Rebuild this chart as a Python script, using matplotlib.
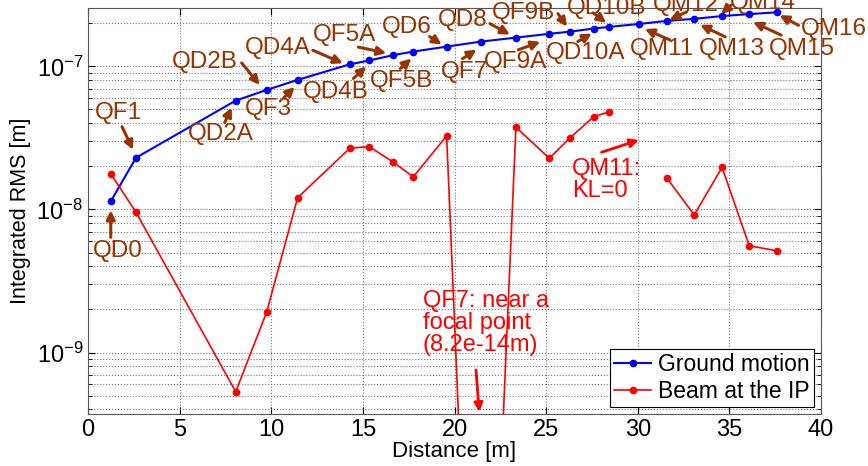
import numpy as np
import matplotlib
matplotlib.use("Agg")
import matplotlib.pyplot as plt
from matplotlib.ticker import LogLocator, NullFormatter
from matplotlib.transforms import offset_copy

plt.rcParams['font.family'] = ['Liberation Sans', 'DejaVu Sans']
plt.rcParams['mathtext.default'] = 'regular'

# Element names along the beamline
names = ["QD0", "QF1", "QD2A", "QD2B", "QF3", "QD4A", "QD4B", "QF5A", "QF5B", "QD6",
         "QF7", "QD8", "QF9A", "QF9B", "QD10A", "QD10B", "QM11", "QM12", "QM13",
         "QM14", "QM15", "QM16"]

# Distance from IP [m]
distance = [1.24, 2.62, 8.06, 9.75, 11.44, 14.29, 15.35, 16.66, 17.75, 19.57,
            21.42, 23.35, 25.17, 26.3, 27.6, 28.44, 30.06, 31.57, 33.08,
            34.6, 36.08, 37.57]

# Integrated RMS, ground motion [m]
ground = [1.14e-8, 2.30e-8, 5.77e-8, 6.85e-8, 8.05e-8, 1.035e-7, 1.10e-7, 1.20e-7,
          1.27e-7, 1.375e-7, 1.49e-7, 1.59e-7, 1.69e-7, 1.75e-7, 1.84e-7, 1.89e-7,
          1.98e-7, 2.08e-7, 2.15e-7, 2.25e-7, 2.32e-7, 2.39e-7]

# Integrated RMS, beam at the IP [m]  (QM11 has KL=0 -> no value)
beam = [1.78e-8, 9.55e-9, 5.32e-10, 1.92e-9, 1.21e-8, 2.68e-8, 2.75e-8, 2.14e-8,
        1.69e-8, 3.27e-8, 8.2e-14, 3.76e-8, 2.28e-8, 3.16e-8, 4.46e-8, 4.81e-8,
        np.nan, 1.67e-8, 9.16e-9, 1.97e-8, 5.58e-9, 5.15e-9]

# label placement, pixel offsets from each blue point: text, arrow tail, arrow tip
label_pos = {
    "QD0":   ((7, -50), (0, -36), (0, -9)),
    "QF1":   ((-18, 45), (-14, 31), (-3, 8)),
    "QD2A":  ((-15, -33), (-11, -22), (-4, -7)),
    "QD2B":  ((-62, 28), (-25, 27), (-7, 5)),
    "QF3":   ((-29, -29), (-14, -18), (-3, -7)),
    "QD4A":  ((-72, 16), (-37, 14), (-7, 1)),
    "QD4B":  ((-34, -32), (-16, -18), (-3, -6)),
    "QF5A":  ((-49, 20), (-35, 8), (-7, 2)),
    "QF5B":  ((-12, -29), (-13, -17), (-2, -7)),
    "QD6":   ((-40, 20), (-17, 10), (-5, 2)),
    "QF7":   ((-16, -30), (-18, -17), (-4, -8)),
    "QD8":   ((-53, 18), (-26, 14), (-6, 3)),
    "QF9A":  ((-34, -28), (-31, -16), (-9, -8)),
    "QF9B":  ((-46, 19), (-12, 18), (-3, 5)),
    "QD10A": ((-8, -24), (-16, -13), (-2, -5)),
    "QD10B": ((-3, 19), (-16, 14), (-3, 4)),
    "QM11":  ((23, -25), (31, -16), (6, -5)),
    "QM12":  ((19, 16), (20, 9), (3, 1)),
    "QM13":  ((38, -30), (31, -18), (6, -6)),
    "QM14":  ((41, 13), (9, 11), (-1, 2)),
    "QM15":  ((53, -35), (32, -21), (4, -8)),
    "QM16":  ((57, -17), (22, -13), (3, -3)),
}

brown = (0.6, 0.2, 0.0)

fig = plt.figure(figsize=(8.68, 4.66), dpi=100)
ax = fig.add_axes([0.1014, 0.1116, 0.8445, 0.8712])

ax.plot(distance, ground, '-o', color='blue', lw=1.5, ms=4.5, label='Ground motion')
ax.plot(distance, beam, '-o', color='red', lw=1.2, ms=4.5, label='Beam at the IP')

ax.set_yscale('log')
ax.set_xlim(0, 40)
ax.set_ylim(3.72e-10, 2.56e-7)
ax.set_xticks(range(0, 41, 5))
ax.yaxis.set_major_locator(LogLocator(base=10, numticks=10))
ax.yaxis.set_minor_locator(LogLocator(base=10, subs=np.arange(2, 10), numticks=20))
ax.yaxis.set_minor_formatter(NullFormatter())
ax.tick_params(which='both', direction='in', top=True, right=True, labelsize=17)
ax.tick_params(which='major', length=5)
ax.tick_params(which='minor', length=3)
ax.grid(True, which='major', ls=':', color='0.45', lw=0.8)
ax.grid(True, which='minor', axis='y', ls=':', color='0.45', lw=0.8)
for s in ax.spines.values():
    s.set_color('0.35')

ax.set_xlabel('Distance [m]', fontsize=16, labelpad=0)
ax.set_ylabel('Integrated RMS [m]', fontsize=15.5, labelpad=4)

# element labels on the ground motion curve
for i, n in enumerate(names):
    (tx, ty), (ax0, ay0), (ax1, ay1) = label_pos[n]
    xy = (distance[i], ground[i])
    ax.annotate(n, xy=xy, xytext=(tx, ty), textcoords='offset pixels',
                ha='center', va='center', fontsize=17.5, color=brown,
                annotation_clip=False)
    tip = offset_copy(ax.transData, fig=fig, x=ax1, y=ay1, units='dots')
    ax.annotate('', xy=xy, xycoords=tip, xytext=(ax0 - ax1, ay0 - ay1),
                textcoords='offset pixels',
                arrowprops=dict(arrowstyle='-|>', color=brown, lw=2.2,
                                mutation_scale=13, shrinkA=0, shrinkB=0),
                annotation_clip=False)

# notes for the beam curve
i7 = names.index("QF7")
ax.text(18.26, 2.74e-9, "QF7: near a\nfocal point\n(8.2e-14m)", color='red',
        fontsize=17, ha='left', va='top', linespacing=1.0)
ax.annotate('', xy=(distance[i7] - 0.07, 3.85e-10), xytext=(distance[i7] - 0.25, 7.55e-10),
            arrowprops=dict(arrowstyle='-|>', color='red', lw=2.0,
                            mutation_scale=13, shrinkA=0, shrinkB=0))

i11 = names.index("QM11")
ax.text(26.39, 2.29e-8, "QM11:\nKL=0", color='red', fontsize=17,
        ha='left', va='top', linespacing=1.0)
ax.annotate('', xy=(distance[i11], 3.06e-8), xytext=(28.02, 2.51e-8),
            arrowprops=dict(arrowstyle='-|>', color='red', lw=2.0,
                            mutation_scale=13, shrinkA=0, shrinkB=0))

leg = ax.legend(loc='lower right', fontsize=16.5, fancybox=False, framealpha=1,
                edgecolor='black', handlelength=1.6, handletextpad=0.3,
                borderpad=0.2, labelspacing=0.15, borderaxespad=0.3)
leg.get_frame().set_linewidth(0.8)

fig.savefig('out.png', dpi=100)
